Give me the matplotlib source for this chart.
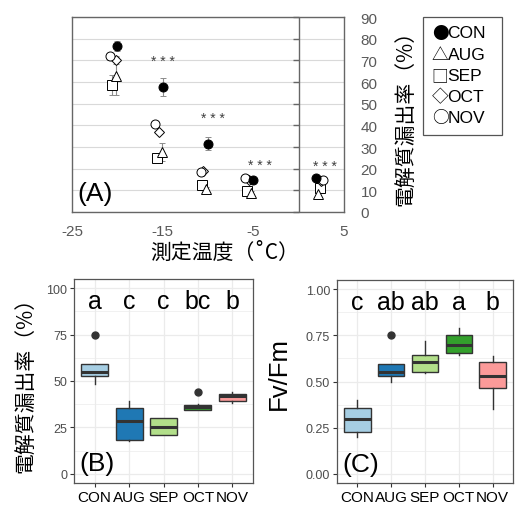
import numpy as np
import matplotlib
matplotlib.use('Agg')
import matplotlib.pyplot as plt
from matplotlib.patches import Rectangle
from matplotlib.markers import TICKLEFT

plt.rcParams['font.family'] = ['Liberation Sans', 'Noto Sans CJK JP', 'DejaVu Sans']
plt.rcParams['axes.unicode_minus'] = False
CJK = ['Noto Sans CJK JP', 'DejaVu Sans']

# ---- パネルA: 測定温度ごとの電解質漏出率 (平均±SE) ----
con_x = [-20.0, -15.0, -10.0, -5.0, 1.9]
con_y = [76.4, 57.7, 31.5, 14.8, 15.6]
con_e = [2.3, 4.3, 3.0, 1.0, 0.8]

aug_x = [-20.1, -15.1, -10.2, -5.3, 2.1]
aug_y = [63.0, 27.7, 10.6, 9.0, 8.3]
aug_e = [9.0, 4.0, 0.8, 0.8, 0.8]

sep_x = [-20.6, -15.6, -10.7, -5.7, 2.4]
sep_y = [58.8, 25.1, 12.4, 9.8, 10.9]
sep_e = [4.6, 2.0, 1.0, 0.8, 1.0]

oct_x = [-20.2, -15.4, -10.5, -5.5, 2.5]
oct_y = [70.0, 36.9, 19.0, 15.0, 14.5]
oct_e = [1.5, 1.0, 0.8, 0.8, 0.8]

nov_x = [-20.8, -15.9, -10.8, -5.9, 2.7]
nov_y = [71.8, 40.4, 18.5, 15.6, 14.7]
nov_e = [1.5, 1.0, 0.8, 0.8, 0.8]

star_x = [-15.0, -9.5, -4.3, 2.9]
star_y = [69.5, 43.5, 21.7, 21.3]

a_xticks = [-25, -15, -5, 5]
a_yticks = list(range(0, 91, 10))

legend_syms = ['●', '△', '□', '◇', '○']
legend_names = ['CON', 'AUG', 'SEP', 'OCT', 'NOV']

# ---- パネルB/C: 箱ひげ図 ----
groups = ['CON', 'AUG', 'SEP', 'OCT', 'NOV']
colors = ['#A6CEE3', '#1F78B4', '#B2DF8A', '#33A02C', '#FB9A99']

el_q1 = [52.9, 18.2, 21.1, 34.6, 39.1]
el_med = [54.6, 28.2, 25.2, 35.9, 41.8]
el_q3 = [59.3, 35.4, 29.8, 37.3, 43.2]
el_lo = [48.6, 17.7, 21.0, 34.4, 37.9]
el_hi = [59.3, 39.1, 30.0, 37.5, 44.1]
el_out = [[74.6], [], [], [44.1], []]
el_letters = ['a', 'c', 'c', 'bc', 'b']

fv_q1 = [0.226, 0.531, 0.549, 0.653, 0.464]
fv_med = [0.298, 0.551, 0.608, 0.699, 0.532]
fv_q3 = [0.354, 0.596, 0.643, 0.751, 0.608]
fv_lo = [0.197, 0.498, 0.545, 0.643, 0.350]
fv_hi = [0.400, 0.596, 0.717, 0.789, 0.639]
fv_out = [[], [0.751], [], [], []]
fv_letters = ['c', 'ab', 'ab', 'a', 'b']

W, H = 516, 510
fig = plt.figure(figsize=(W / 100, H / 100), dpi=100)

def px_axes(l, t, r, b):
    return fig.add_axes([l / W, 1 - b / H, (r - l) / W, (b - t) / H])

# ===== (A) =====
ax = px_axes(72, 18, 344, 213)
frame_c = '#666666'
for s in ax.spines.values():
    s.set_color(frame_c)
    s.set_linewidth(1.0)
ax.set_xlim(-25, 5)
ax.set_ylim(0, 90)
ax.set_xticks(a_xticks)
ax.set_yticks(a_yticks)
ax.yaxis.tick_right()
ax.tick_params(axis='both', length=0, labelsize=11, labelcolor='#595959')
ax.tick_params(axis='x', pad=9)
ax.tick_params(axis='y', pad=12)
ax.grid(axis='y', color='#D9D9D9', linewidth=0.8)
ax.set_axisbelow(True)
ax.axvline(0, color=frame_c, linewidth=1.0)
ax.plot([0] * len(a_yticks), a_yticks, ls='none', marker=TICKLEFT,
        markersize=4, color=frame_c, markeredgewidth=1.0, clip_on=False)

eb = dict(ls='none', ecolor='#8C8C8C', elinewidth=0.8, capsize=2, capthick=0.8)
ms = 6.5
ax.errorbar(sep_x, sep_y, yerr=sep_e, marker='s', ms=ms, mfc='white', mec='black', mew=0.7, **eb)
ax.errorbar(aug_x, aug_y, yerr=aug_e, marker='^', ms=ms, mfc='white', mec='black', mew=0.7, **eb)
ax.errorbar(oct_x, oct_y, yerr=oct_e, marker='D', ms=ms - 1.5, mfc='white', mec='black', mew=0.7, **eb)
ax.errorbar(nov_x, nov_y, yerr=nov_e, marker='o', ms=ms, mfc='white', mec='black', mew=0.7, **eb)
ax.errorbar(con_x, con_y, yerr=con_e, marker='o', ms=ms, mfc='black', mec='black', mew=0.7, **eb)

for sx, sy in zip(star_x, star_y):
    ax.text(sx, sy, '* * *', ha='center', va='center', fontsize=10, color='#404040')

ax.text(-24.4, 9, '(A)', ha='left', va='center', fontsize=19)

fig.text(225 / W, 1 - 253 / H, '測定温度（˚C）', ha='center', va='center',
         fontsize=15, family=CJK)
fig.text(405 / W, 1 - 113 / H, '電解質漏出率（%）', ha='center', va='center',
         fontsize=15, rotation=90, family=CJK)

# legend box
fig.patches.append(Rectangle((423 / W, 1 - 136 / H), 79 / W, 118 / H,
                             transform=fig.transFigure, fill=False,
                             edgecolor='#555555', linewidth=0.9))
for i, (sym, name) in enumerate(zip(legend_syms, legend_names)):
    yy = 1 - (34 + i * 21.2) / H
    fig.text(440 / W, yy, sym, ha='center', va='center', fontsize=12, family=CJK)
    fig.text(447.5 / W, yy, name, ha='left', va='center', fontsize=12.5)

# ===== (B), (C) =====
def box_panel(ax, q1, med, q3, lo, hi, out, letters, ylim, yticks, ylabels, letter_y, tag, tag_y):
    stats = []
    for i in range(len(groups)):
        stats.append(dict(q1=q1[i], med=med[i], q3=q3[i], whislo=lo[i], whishi=hi[i], fliers=out[i]))
    bp = ax.bxp(stats, positions=range(1, 6), widths=0.78, patch_artist=True,
                showcaps=False,
                boxprops=dict(edgecolor='#333333', linewidth=1.0),
                medianprops=dict(color='#333333', linewidth=2.2),
                whiskerprops=dict(color='#333333', linewidth=1.0),
                flierprops=dict(marker='o', mfc='#333333', mec='#333333', ms=5))
    for patch, c in zip(bp['boxes'], colors):
        patch.set_facecolor(c)
    ax.set_xlim(0.4, 5.6)
    ax.set_ylim(*ylim)
    ax.set_yticks(yticks)
    ax.set_yticklabels(ylabels)
    ax.set_yticks([(yticks[k] + yticks[k + 1]) / 2 for k in range(len(yticks) - 1)], minor=True)
    ax.set_xticks(range(1, 6))
    ax.set_xticklabels(groups)
    ax.grid(which='major', color='#EBEBEB', linewidth=0.9)
    ax.grid(which='minor', axis='y', color='#EBEBEB', linewidth=0.5)
    ax.set_axisbelow(True)
    ax.tick_params(which='minor', length=0)
    ax.tick_params(axis='both', length=3, color='#333333', width=0.8, pad=2)
    ax.tick_params(axis='y', labelsize=9, labelcolor='#4D4D4D')
    ax.tick_params(axis='x', labelsize=11, labelcolor='black')
    for s in ax.spines.values():
        s.set_color('#555555')
        s.set_linewidth(0.9)
    for i, t in enumerate(letters):
        ax.text(i + 1, letter_y, t, ha='center', va='center', fontsize=18)
    ax.text(0.55, tag_y, tag, ha='left', va='center', fontsize=19)

axb = px_axes(74, 280, 253, 484)
box_panel(axb, el_q1, el_med, el_q3, el_lo, el_hi, el_out, el_letters,
          (-5, 105), [0, 25, 50, 75, 100], ['0', '25', '50', '75', '100'], 93, '(B)', 6)
fig.text(25 / W, 1 - 380 / H, '電解質漏出率（%）', ha='center', va='center',
         fontsize=15, rotation=90, family=CJK)

axc = px_axes(337, 281, 513, 484)
box_panel(axc, fv_q1, fv_med, fv_q3, fv_lo, fv_hi, fv_out, fv_letters,
          (-0.05, 1.05), [0, 0.25, 0.5, 0.75, 1.0], ['0.00', '0.25', '0.50', '0.75', '1.00'],
          0.93, '(C)', 0.055)
fig.text(279 / W, 1 - 374 / H, 'Fv/Fm', ha='center', va='center', fontsize=18.5, rotation=90)

fig.savefig('out.png', dpi=100)
